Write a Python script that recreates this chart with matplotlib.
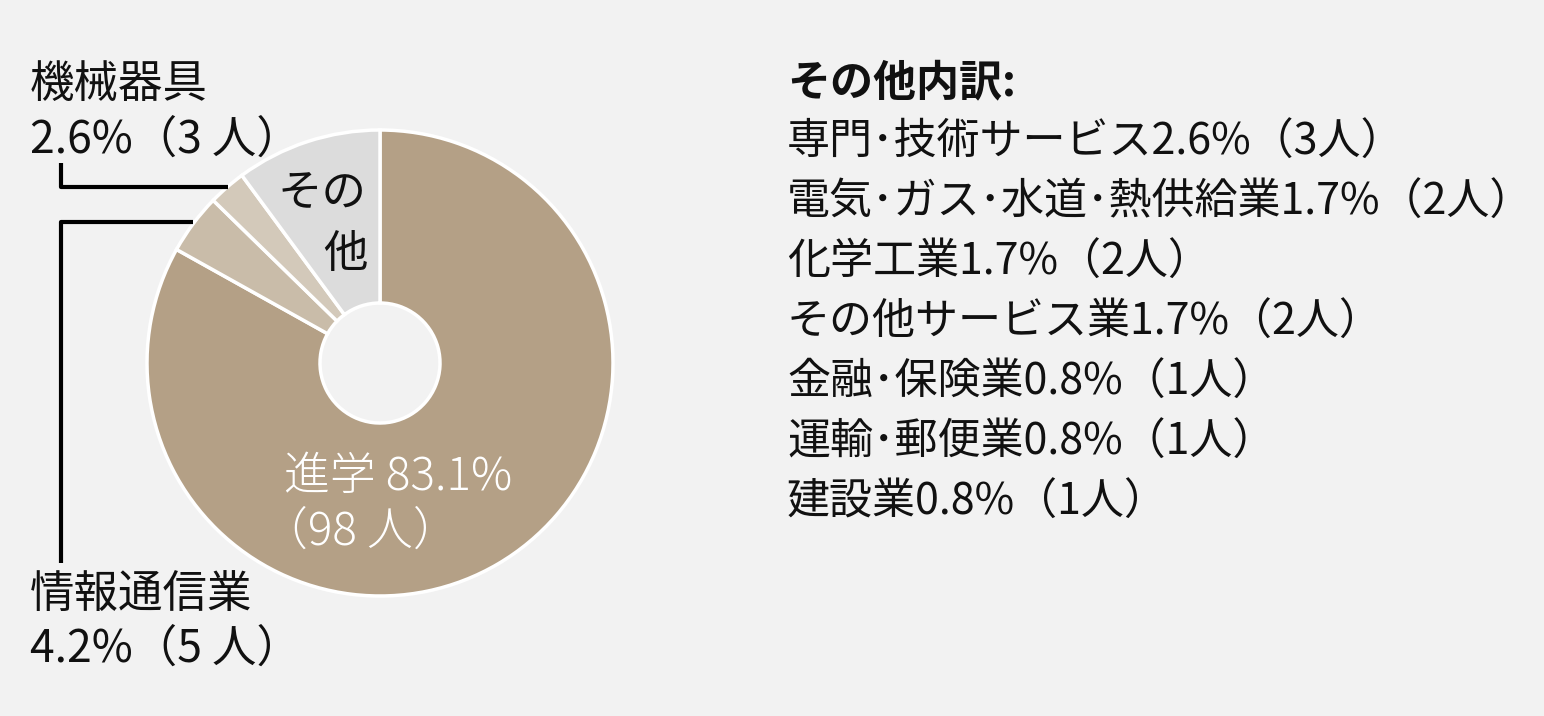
import matplotlib
matplotlib.use('Agg')
import matplotlib.pyplot as plt

categories = ['進学', '情報通信業', '機械器具', 'その他']
values = [83.1, 4.2, 2.6, 10.1]
counts = [98, 5, 3, 12]
other_items = ['専門･技術サービス', '電気･ガス･水道･熱供給業', '化学工業', 'その他サービス業',
               '金融･保険業', '運輸･郵便業', '建設業']
other_pct = [2.6, 1.7, 1.7, 1.7, 0.8, 0.8, 0.8]
other_cnt = [3, 2, 2, 2, 1, 1, 1]
colors = ['#b4a086', '#c9bca9', '#d3c9ba', '#dcdcdc']

FAM = ['Noto Sans CJK JP', 'DejaVu Sans']
plt.rcParams['font.family'] = FAM

W, H = 1544, 716
fig = plt.figure(figsize=(W / 100, H / 100), dpi=100)
fig.patch.set_facecolor('#f2f2f2')
ax = fig.add_axes([0, 0, 1, 1])


def Y(y):
    return H - y


cx, cy, R, r_in = 380, 363, 233, 60
ax.pie(values, colors=colors, startangle=90, counterclock=False,
       center=(cx, Y(cy)), radius=R, frame=True,
       wedgeprops=dict(width=R - r_in, edgecolor='white', linewidth=2.5))
ax.set_xlim(0, W)
ax.set_ylim(0, H)
ax.set_aspect('equal')
ax.axis('off')

fs = 31
fsl = 32
ink = '#111111'
# center label
ax.text(284, Y(490), f'{categories[0]} {values[0]}%', fontsize=33, color='white',
        va='baseline', ha='left', fontweight='light')
ax.text(262, Y(545), f'（{counts[0]} 人）', fontsize=33, color='white',
        va='baseline', ha='left', fontweight='light')

# その他 label inside
ax.text(322, Y(207), categories[3][:2], fontsize=fsl, color=ink, va='baseline', ha='center')
ax.text(345, Y(267), categories[3][2:], fontsize=fsl, color=ink, va='baseline', ha='center')

# left labels
ax.text(30, Y(97), categories[2], fontsize=fsl, color=ink, va='baseline', ha='left')
ax.text(30, Y(153), f'{values[2]}%（{counts[2]} 人）', fontsize=fsl, color=ink,
        va='baseline', ha='left')
ax.text(30, Y(608), categories[1], fontsize=fsl, color=ink, va='baseline', ha='left')
ax.text(30, Y(662), f'{values[1]}%（{counts[1]} 人）', fontsize=fsl, color=ink,
        va='baseline', ha='left')

# leader lines
ax.plot([61, 61, 228], [Y(163), Y(187), Y(187)], color='black', lw=3, solid_capstyle='butt')
ax.plot([193, 61, 61], [Y(222), Y(222), Y(563)], color='black', lw=3, solid_capstyle='butt')

# right list
ax.text(787, Y(95), 'その他内訳:', fontsize=fs, color=ink, va='baseline', ha='left',
        fontweight='bold')
for i, (name, p, c) in enumerate(zip(other_items, other_pct, other_cnt)):
    ax.text(787, Y(155 + 60 * i), f'{name}{p}%（{c}人）', fontsize=fs, color=ink,
            va='baseline', ha='left')

fig.savefig('out.png', dpi=100, facecolor=fig.get_facecolor())
